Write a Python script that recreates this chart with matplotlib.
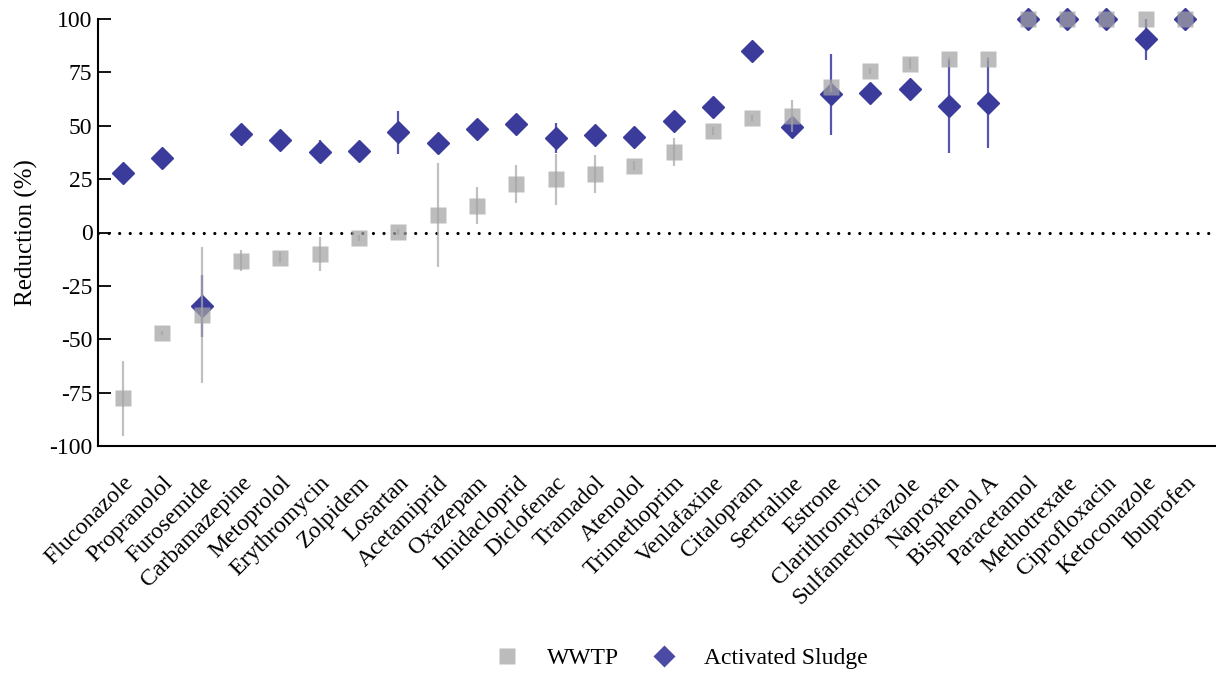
import numpy as np
import matplotlib
matplotlib.use('Agg')
import matplotlib.pyplot as plt
from matplotlib.lines import Line2D

plt.rcParams['font.family'] = ['Liberation Serif', 'DejaVu Serif']
plt.rcParams['axes.unicode_minus'] = False

## donnees
compounds = ['Fluconazole', 'Propranolol', 'Furosemide', 'Carbamazepine', 'Metoprolol',
             'Erythromycin', 'Zolpidem', 'Losartan', 'Acetamiprid', 'Oxazepam',
             'Imidacloprid', 'Diclofenac', 'Tramadol', 'Atenolol', 'Trimethoprim',
             'Venlafaxine', 'Citalopram', 'Sertraline', 'Estrone', 'Clarithromycin',
             'Sulfamethoxazole', 'Naproxen', 'Bisphenol A', 'Paracetamol', 'Methotrexate',
             'Ciprofloxacin', 'Ketoconazole', 'Ibuprofen']
wwtp = [-77.7, -47.2, -38.6, -13.2, -11.8, -10.1, -2.7, 0.1, 8.2, 12.6,
        22.7, 24.9, 27.4, 31.3, 37.6, 47.5, 53.5, 54.7, 68.0, 75.6,
        79.1, 81.3, 81.4, 100, 100, 100, 100, 100]
wwtp_err = [17.5, 1.0, 32.0, 5.0, 2.5, 8.0, 1.5, 1.5, 24.5, 8.5,
            8.7, 12.0, 8.8, 2.0, 6.5, 2.0, 1.5, 7.5, 2.0, 1.5,
            2.5, 1.0, 1.0, 0, 0, 0, 0, 0]
sludge = [28.0, 34.7, -34.3, 46.0, 43.3, 37.9, 38.3, 46.9, 41.8, 48.3,
          50.8, 44.1, 45.7, 44.6, 52.4, 58.9, 85.0, 49.3, 64.7, 65.2,
          67.4, 59.3, 60.5, 100, 100, 100, 90.5, 100]
sludge_err = [3.0, 1.5, 14.5, 3.0, 3.0, 5.5, 3.0, 10.0, 1.5, 1.5,
              1.5, 7.0, 1.5, 5.0, 3.0, 2.0, 2.5, 1.5, 18.8, 5.0,
              3.0, 22.0, 21.0, 0.5, 0.5, 0.5, 9.5, 0.5]

x = np.arange(len(compounds))
fs = 17

fig = plt.figure(figsize=(12.16, 6.73), dpi=100)
ax = fig.add_axes([98/1216, 1-446/673, 1-98/1216, (446-19)/673])

ax.axhline(0, color='black', lw=2.3, linestyle=(0, (0.01, 3.3)), dash_capstyle='round', zorder=1)

ax.errorbar(x, sludge, yerr=sludge_err, fmt='D', color='#3b3b9c', ms=11, mec='#3b3b9c',
            ecolor='#5656b0', elinewidth=1.6, capsize=0, zorder=2, clip_on=False)
ax.errorbar(x, wwtp, yerr=wwtp_err, fmt='s', color='#a3a3a3', ms=11.5, mec='none', alpha=0.72,
            ecolor='#a8a8a8', elinewidth=1.6, capsize=0, zorder=3, clip_on=False)

ax.set_ylim(-100, 100)
ax.set_xlim(-0.64, 27.79)
ax.set_yticks([-100, -75, -50, -25, 0, 25, 50, 75, 100])
ax.set_xticks(x)
ax.set_xticklabels(compounds, rotation=45, ha='right', rotation_mode='anchor', fontsize=fs)
ax.tick_params(axis='x', length=0, pad=19)
ax.tick_params(axis='y', direction='in', length=9.5, width=1.3, labelsize=fs, pad=4)
ax.spines['top'].set_visible(False)
ax.spines['right'].set_visible(False)
ax.spines['left'].set_linewidth(1.5)
ax.spines['bottom'].set_linewidth(1.5)
ax.set_ylabel('Reduction (%)', fontsize=fs + 1, labelpad=8)

h1 = Line2D([], [], ls='none', marker='s', ms=11, color='#bcbcbc', mec='none')
h2 = Line2D([], [], ls='none', marker='D', ms=11, color='#4b4ba6', mec='none')
fig.legend([h1, h2], ['WWTP', 'Activated Sludge'], loc='center', bbox_to_anchor=(680/1216, 1-658/673),
           ncol=2, frameon=False, fontsize=fs, handletextpad=1.1, columnspacing=1.3,
           handlelength=1.2)

plt.savefig('out.png', dpi=100)
